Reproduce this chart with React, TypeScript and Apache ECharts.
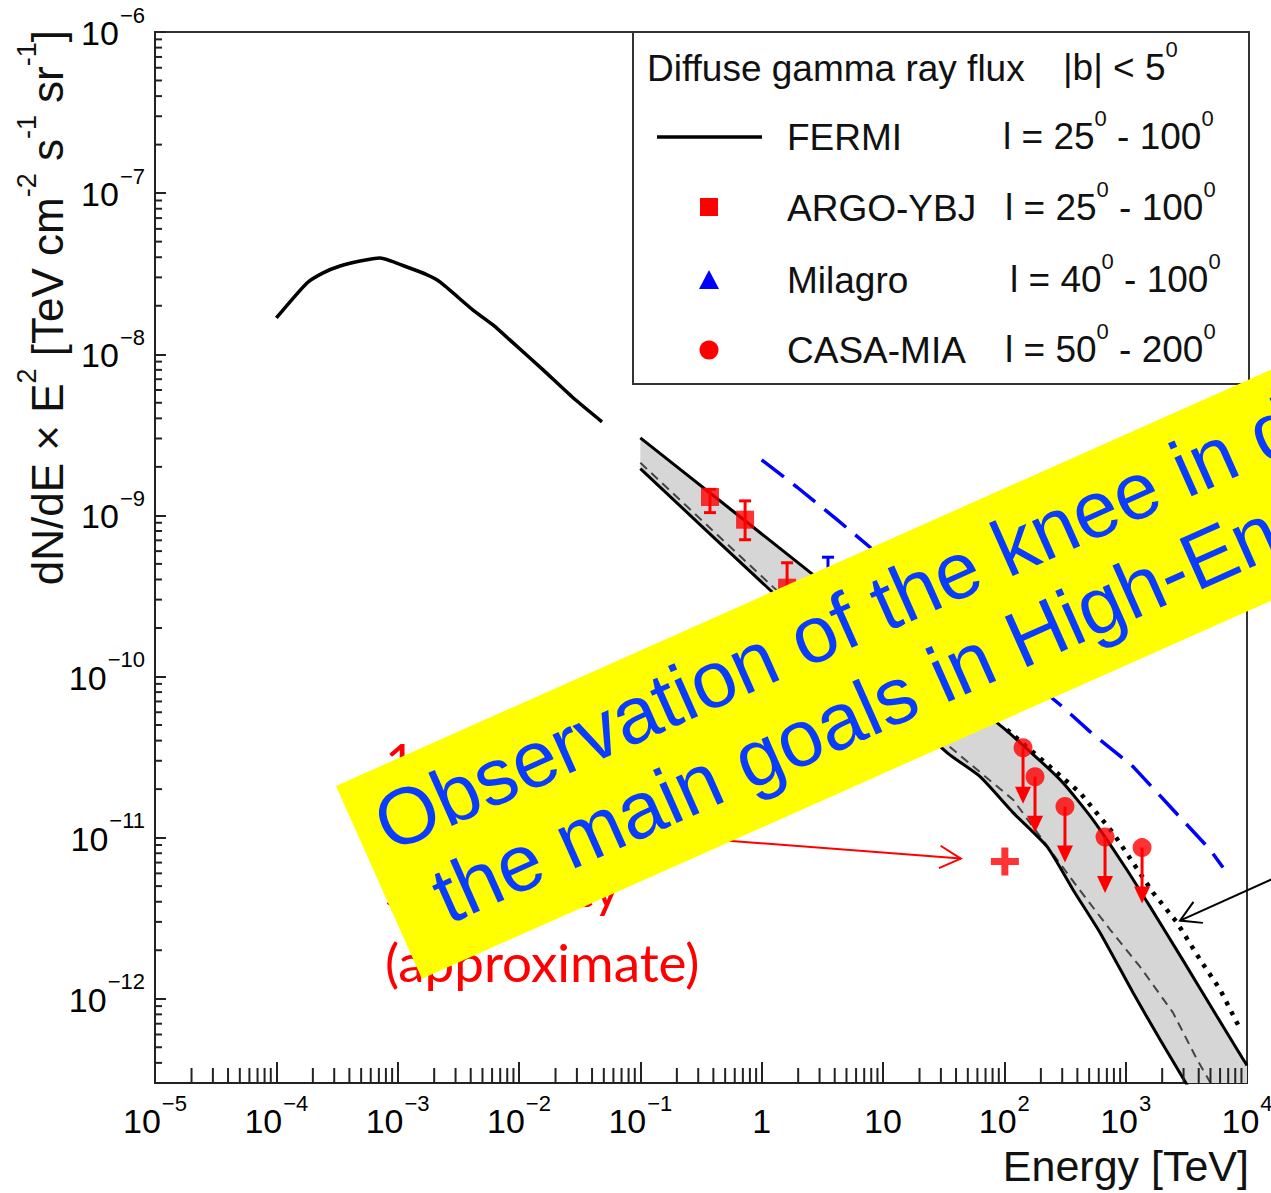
import React, { useEffect, useRef } from 'react';
import * as echarts from 'echarts';

const FONT = '"Liberation Sans", Arial, Helvetica, sans-serif';
const NOTE_FONT = 'Lato, "Open Sans", sans-serif';

const X_MIN = 1e-5;
const X_MAX = 1e4;
const Y_MIN = 3e-13;
const Y_MAX = 1e-6;

const xTickExponents = [-5, -4, -3, -2, -1, 0, 1, 2, 3, 4];
const yTickExponents = [-12, -11, -10, -9, -8, -7, -6];
const yTickValues = yTickExponents.map((e) => Math.pow(10, e));

// FERMI diffuse spectrum  [E (TeV), E^2 dN/dE]
const fermi: number[][] = [
  [1.0e-4, 1.68e-8], [1.79e-4, 2.77e-8], [2.43e-4, 3.2e-8], [3.35e-4, 3.53e-8],
  [4.9e-4, 3.79e-8], [7.15e-4, 3.96e-8], [1.19e-3, 3.48e-8], [1.75e-3, 3.11e-8],
  [2.23e-3, 2.81e-8], [4.18e-3, 1.88e-8], [6.1e-3, 1.52e-8], [8.9e-3, 1.18e-8],
  [0.0158, 8.0e-9], [0.0279, 5.37e-9], [0.0483, 3.81e-9],
];

// model band (grey)
const bandUpper: number[][] = [
  [0.1, 3.03e-9], [2.65, 4.29e-10], [10, 1.92e-10], [97.5, 4.81e-11], [288, 2.29e-11],
  [538, 1.29e-11], [1026, 6.3e-12], [1588, 3.73e-12], [2971, 1.73e-12], [5662, 7.76e-13],
  [9100, 4.32e-13], [10000, 3.86e-13],
];
const bandLower: number[][] = [
  [0.1, 1.95e-9], [1.24, 3.31e-10], [33.7, 3.37e-11], [63.1, 2.39e-11], [118, 1.43e-11],
  [225, 8.79e-12], [368, 4.75e-12], [615, 2.57e-12], [1151, 1.09e-12], [1919, 5.58e-13],
  [2915, 3.29e-13], [10000, 6.9e-14],
];
const bandMid: number[][] = [
  [0.1, 2.12e-9], [1.24, 3.6e-10], [33.7, 3.78e-11], [118, 1.72e-11], [397, 4.97e-12],
  [743, 2.69e-12], [1313, 1.58e-12], [2455, 8.2e-13], [3873, 4.2e-13], [6000, 2.37e-13],
];
const dottedModel: number[][] = [
  [105, 4.68e-11], [421, 1.9e-11], [787, 1.07e-11], [1680, 4.56e-12], [2650, 2.97e-12],
  [4100, 1.75e-12], [6000, 1.14e-12], [8430, 6.9e-13],
];
const milagroModel: number[][] = [
  [1.0, 2.21e-9], [1.95, 1.5e-9], [4.18, 9.4e-10], [8.27, 6.12e-10], [50, 1.98e-10],
  [288, 6.68e-11], [508, 4.55e-11], [1150, 2.76e-11], [2322, 1.56e-11], [4956, 8.43e-12],
  [6340, 6.52e-12],
];

// ARGO-YBJ
const argoE = [0.375, 0.73, 1.62];
const argoFlux = [1.3e-9, 9.4e-10, 3.56e-10];
const argoLow = [1.04e-9, 7.06e-10, 2.6e-10];
const argoHigh = [1.45e-9, 1.23e-9, 5.08e-10];

// Milagro
const milagroE = [3.52];
const milagroFlux = [3.3e-10];
const milagroLow = [2.0e-10];
const milagroHigh = [5.5e-10];

// CASA-MIA upper limits
const casaE = [142.6, 179, 316, 676, 1365];
const casaFlux = [3.61e-11, 2.39e-11, 1.56e-11, 1.01e-11, 8.67e-12];

// approximate sensitivity point
const crossPoint = [101, 7.1e-12];

const legendTitle = 'Diffuse gamma ray flux';
const legendTitleRight = '|b| < 5';
const legendNames = ['FERMI', 'ARGO-YBJ', 'Milagro', 'CASA-MIA'];
const legendRanges = [['25', '100'], ['25', '100'], ['40', '100'], ['50', '200']];

const noteLines = ['1 year', 'LHAASO', 'sensitivity', '(approximate)'];
const noteY = [761, 826, 886, 961];
const bannerLines = ['Observation of the knee in d', 'the main goals in High-En'];

const supTxt = (e: number) => (e < 0 ? '\u2212' : '') + Math.abs(e);
const decadeLabel = (v: number, list: number[], plainSmall: boolean) => {
  const l = Math.log10(v);
  const e = Math.round(l);
  if (Math.abs(l - e) > 1e-6 || list.indexOf(e) < 0) return '';
  if (plainSmall && e === 0) return '{b|1}';
  if (plainSmall && e === 1) return '{b|10}';
  return `{b|10}{s|${supTxt(e)}}`;
};

const axisRich = {
  b: { fontSize: 34, fontFamily: FONT, color: '#000', verticalAlign: 'bottom', padding: [12, 0, 0, 0] },
  s: { fontSize: 22, fontFamily: FONT, color: '#000', verticalAlign: 'top', padding: [0, 0, 0, 1] },
};

const xMinorTicks: number[][] = [];
for (let k = -5; k <= 3; k++) for (let m = 2; m <= 9; m++) xMinorTicks.push([m * Math.pow(10, k), 1e-9]);
const yMinorTicks: number[][] = [];
for (let k = -13; k <= -7; k++)
  for (let m = 2; m <= 9; m++) {
    const v = m * Math.pow(10, k);
    if (v > Y_MIN * 1.01 && v < Y_MAX) yMinorTicks.push([1, v]);
  }

const errorBarRender = (color: string) => (params: any, api: any) => {
  const x = api.value(0);
  const pLo = api.coord([x, api.value(2)]);
  const pHi = api.coord([x, api.value(3)]);
  const cap = 6;
  const st = { stroke: color, lineWidth: 3 };
  return {
    type: 'group',
    children: [
      { type: 'line', shape: { x1: pLo[0], y1: pLo[1], x2: pHi[0], y2: pHi[1] }, style: st },
      { type: 'line', shape: { x1: pLo[0] - cap, y1: pLo[1], x2: pLo[0] + cap, y2: pLo[1] }, style: st },
      { type: 'line', shape: { x1: pHi[0] - cap, y1: pHi[1], x2: pHi[0] + cap, y2: pHi[1] }, style: st },
    ],
  };
};

function buildOption(): any {
  return {
    animation: false,
    backgroundColor: '#fff',
    grid: {
      left: 155, top: 32, right: 24, bottom: 110,
      show: true, borderColor: '#333', borderWidth: 2, containLabel: false, outerBoundsMode: 'none',
    },
    xAxis: {
      type: 'log', logBase: 10, min: X_MIN, max: X_MAX, interval: 1,
      splitLine: { show: false },
      axisLine: { show: true, onZero: false, lineStyle: { color: '#222', width: 2 } },
      axisTick: { show: true, inside: true, length: 21, lineStyle: { color: '#222', width: 2 } },
      axisLabel: {
        margin: 9, formatter: (v: number) => decadeLabel(v, xTickExponents, true), rich: axisRich,
        showMinLabel: true, showMaxLabel: true,
      },
    },
    yAxis: {
      type: 'log', logBase: 10, min: Y_MIN, max: Y_MAX,
      splitLine: { show: false },
      axisLine: { show: true, onZero: false, lineStyle: { color: '#222', width: 2 } },
      axisTick: {
        show: true, inside: true, length: 11, customValues: yTickValues,
        lineStyle: { color: '#222', width: 2 },
      },
      axisLabel: {
        margin: 10, customValues: yTickValues, padding: [0, 0, 10, 0],
        formatter: (v: number) => decadeLabel(v, yTickExponents, false), rich: axisRich,
      },
    },
    series: [
      {
        name: 'band', type: 'custom', clip: true, silent: true, z: 1,
        data: [bandUpper[0]],
        renderItem: (params: any, api: any) => {
          const pts = bandUpper.map((d) => api.coord(d)).concat(bandLower.slice().reverse().map((d) => api.coord(d)));
          return { type: 'polygon', shape: { points: pts }, style: { fill: '#d6d6d6', stroke: 'none' } };
        },
      },
      {
        name: 'bandMid', type: 'line', data: bandMid, symbol: 'none', silent: true, z: 2,
        lineStyle: { color: '#444', width: 2, type: [9, 6] },
      },
      {
        name: 'bandUpper', type: 'line', data: bandUpper, symbol: 'none', silent: true, z: 3, smooth: 0.2,
        lineStyle: { color: '#000', width: 3 },
      },
      {
        name: 'bandLower', type: 'line', data: bandLower, symbol: 'none', silent: true, z: 3, smooth: 0.2,
        lineStyle: { color: '#000', width: 3 },
      },
      {
        name: 'dotted', type: 'line', data: dottedModel, symbol: 'none', silent: true, z: 3,
        lineStyle: { color: '#000', width: 4.5, type: [4, 7] },
      },
      {
        name: 'milagroModel', type: 'line', data: milagroModel, symbol: 'none', silent: true, z: 3,
        lineStyle: { color: '#0000ff', width: 3.5, type: [28, 12] },
      },
      {
        name: 'FERMI', type: 'line', data: fermi, symbol: 'none', silent: true, z: 3, smooth: 0.2,
        lineStyle: { color: '#000', width: 3.5 },
      },
      {
        name: 'ARGO err', type: 'custom', silent: true, z: 4,
        data: argoE.map((e, i) => [e, argoFlux[i], argoLow[i], argoHigh[i]]),
        renderItem: errorBarRender('#ff0000'),
      },
      {
        name: 'ARGO-YBJ', type: 'scatter', symbol: 'rect', symbolSize: 18, silent: true, z: 5,
        itemStyle: { color: '#ff0000' },
        data: argoE.map((e, i) => [e, argoFlux[i]]),
      },
      {
        name: 'Milagro err', type: 'custom', silent: true, z: 4,
        data: milagroE.map((e, i) => [e, milagroFlux[i], milagroLow[i], milagroHigh[i]]),
        renderItem: errorBarRender('#0000ff'),
      },
      {
        name: 'Milagro', type: 'scatter', symbol: 'triangle', symbolSize: 18, silent: true, z: 5,
        itemStyle: { color: '#0000ff' },
        data: milagroE.map((e, i) => [e, milagroFlux[i]]),
      },
      {
        name: 'CASA arrows', type: 'custom', silent: true, z: 4,
        data: casaE.map((e, i) => [e, casaFlux[i]]),
        renderItem: (params: any, api: any) => {
          const p = api.coord([api.value(0), api.value(1)]);
          return {
            type: 'group',
            children: [
              { type: 'line', shape: { x1: p[0], y1: p[1], x2: p[0], y2: p[1] + 42 }, style: { stroke: '#ff0000', lineWidth: 3 } },
              {
                type: 'polygon',
                shape: { points: [[p[0] - 8, p[1] + 39], [p[0] + 8, p[1] + 39], [p[0], p[1] + 56]] },
                style: { fill: '#ff0000' },
              },
            ],
          };
        },
      },
      {
        name: 'CASA-MIA', type: 'scatter', symbol: 'circle', symbolSize: 19, silent: true, z: 5,
        itemStyle: { color: '#ff0000' },
        data: casaE.map((e, i) => [e, casaFlux[i]]),
      },
      {
        name: 'sensitivity', type: 'scatter', silent: true, z: 5,
        symbol: 'path://M3,0 H5 V3 H8 V5 H5 V8 H3 V5 H0 V3 H3 Z', symbolSize: 28,
        itemStyle: { color: '#ff0000' },
        data: [crossPoint],
      },
      {
        name: 'xMinor', type: 'custom', silent: true, z: 6,
        data: xMinorTicks,
        renderItem: (params: any, api: any) => {
          const p = api.coord([api.value(0), api.value(1)]);
          const b = params.coordSys.y + params.coordSys.height;
          return { type: 'line', shape: { x1: p[0], y1: b, x2: p[0], y2: b - 15 }, style: { stroke: '#222', lineWidth: 2 } };
        },
      },
      {
        name: 'yMinor', type: 'custom', silent: true, z: 6,
        data: yMinorTicks,
        renderItem: (params: any, api: any) => {
          const p = api.coord([api.value(0), api.value(1)]);
          const l = params.coordSys.x;
          return { type: 'line', shape: { x1: l, y1: p[1], x2: l + 7, y2: p[1] }, style: { stroke: '#222', lineWidth: 2 } };
        },
      },
    ],
  };
}

const legRich = {
  n: { fontSize: 37, fontFamily: FONT, fill: '#111', verticalAlign: 'bottom', padding: [10, 0, 0, 0] },
  s: { fontSize: 22, fontFamily: FONT, fill: '#111', verticalAlign: 'top' },
};

function openArrow(tip: number[], from: number[], len: number, deg: number) {
  const dx = from[0] - tip[0];
  const dy = from[1] - tip[1];
  const L = Math.hypot(dx, dy);
  const ux = dx / L;
  const uy = dy / L;
  const rot = (a: number) => [ux * Math.cos(a) - uy * Math.sin(a), ux * Math.sin(a) + uy * Math.cos(a)];
  const a = (deg * Math.PI) / 180;
  const r1 = rot(a);
  const r2 = rot(-a);
  return [
    [tip[0] + r1[0] * len, tip[1] + r1[1] * len],
    [tip[0], tip[1]],
    [tip[0] + r2[0] * len, tip[1] + r2[1] * len],
  ];
}

function buildGraphics(px: (p: number[]) => number[]): any[] {
  const g: any[] = [];
  // y axis title
  g.push({
    type: 'text', x: 41, y: 30, rotation: Math.PI / 2, z: 20,
    style: {
      text: '{n|dN/dE \u00d7 E}{s|2}{n| [TeV cm}{s|-2}{n| s}{s|-1}{n| sr}{s|-1}{n|]}',
      align: 'right', verticalAlign: 'middle',
      rich: {
        n: { fontSize: 44, fontFamily: FONT, fill: '#111', verticalAlign: 'bottom', padding: [12, 0, 0, 0] },
        s: { fontSize: 27, fontFamily: FONT, fill: '#111', verticalAlign: 'top' },
      },
    },
  });
  // x axis title
  g.push({
    type: 'text', x: 1249, y: 1166, z: 20,
    style: { text: 'Energy [TeV]', fontSize: 43, fontFamily: FONT, fill: '#111', align: 'right', verticalAlign: 'middle' },
  });
  // legend box
  g.push({
    type: 'rect', z: 20, shape: { x: 633, y: 32, width: 616, height: 352 },
    style: { fill: '#fff', stroke: '#333', lineWidth: 2 },
  });
  g.push({
    type: 'text', x: 647, y: 68, z: 21,
    style: { text: legendTitle, fontSize: 37, fontFamily: FONT, fill: '#111', verticalAlign: 'middle' },
  });
  g.push({
    type: 'text', x: 1063, y: 62, z: 21,
    style: { text: `{n|${legendTitleRight}}{s|0}`, rich: legRich, verticalAlign: 'middle' },
  });
  const rowY = [137, 208, 280, 350];
  const rangeX = [1003, 1005, 1010, 1005];
  legendNames.forEach((nm, i) => {
    g.push({
      type: 'text', x: 787, y: rowY[i], z: 21,
      style: { text: nm, fontSize: 37, fontFamily: FONT, fill: '#111', verticalAlign: 'middle' },
    });
    const r = legendRanges[i];
    g.push({
      type: 'text', x: rangeX[i], y: rowY[i] - 6, z: 21,
      style: { text: `{n|l = ${r[0]}}{s|0}{n| - ${r[1]}}{s|0}`, rich: legRich, verticalAlign: 'middle' },
    });
  });
  g.push({ type: 'line', z: 21, shape: { x1: 657, y1: 137, x2: 762, y2: 137 }, style: { stroke: '#000', lineWidth: 3.5 } });
  g.push({ type: 'rect', z: 21, shape: { x: 700, y: 198, width: 18, height: 18 }, style: { fill: '#ff0000' } });
  g.push({ type: 'polygon', z: 21, shape: { points: [[709, 270], [699, 289], [719, 289]] }, style: { fill: '#0000ff' } });
  g.push({ type: 'circle', z: 21, shape: { cx: 709, cy: 350, r: 9.5 }, style: { fill: '#ff0000' } });

  // red note text (partly hidden by banner)
  noteLines.forEach((t, i) => {
    g.push({
      type: 'text', x: 385, y: noteY[i], z: 30,
      style: { text: t, fontSize: 53, fontFamily: NOTE_FONT, fill: '#ff0000', verticalAlign: 'middle' },
    });
  });
  // red arrow to the cross
  const c = px(crossPoint);
  const redTip = [c[0] - 44, c[1] - 3];
  const redFrom = [640, 834];
  g.push({ type: 'line', z: 30, shape: { x1: redFrom[0], y1: redFrom[1], x2: redTip[0], y2: redTip[1] }, style: { stroke: '#ff0000', lineWidth: 2 } });
  g.push({ type: 'polyline', z: 30, shape: { points: openArrow(redTip, redFrom, 24, 28) }, style: { stroke: '#ff0000', lineWidth: 2, fill: 'none' } });
  // black arrow to the dotted model
  const d = px(dottedModel[4]);
  const blkTip = [d[0] + 3, d[1] - 2];
  const blkFrom = [1290, 871];
  g.push({ type: 'line', z: 30, shape: { x1: blkFrom[0], y1: blkFrom[1], x2: blkTip[0], y2: blkTip[1] }, style: { stroke: '#000', lineWidth: 2 } });
  g.push({ type: 'polyline', z: 30, shape: { points: openArrow(blkTip, blkFrom, 23, 30) }, style: { stroke: '#000', lineWidth: 2, fill: 'none' } });

  // yellow banner
  const rot = (24 * Math.PI) / 180;
  g.push({
    type: 'group', x: 336, y: 786, rotation: rot, z: 100,
    children: [
      { type: 'rect', z: 100, shape: { x: 0, y: 0, width: 1300, height: 211 }, style: { fill: '#ffff00' } },
      {
        type: 'text', z: 101, x: 22, y: 56,
        style: { text: bannerLines[0], fontSize: 80, fontFamily: FONT, fill: '#0a3cff', verticalAlign: 'middle' },
      },
      {
        type: 'text', z: 101, x: 46, y: 145,
        style: { text: bannerLines[1], fontSize: 80, fontFamily: FONT, fill: '#0a3cff', verticalAlign: 'middle' },
      },
    ],
  });
  return g;
}

export default function App() {
  const ref = useRef<HTMLDivElement>(null);
  useEffect(() => {
    const chart = echarts.init(ref.current as HTMLDivElement, null, { renderer: 'svg' });
    chart.setOption(buildOption());
    const px = (p: number[]) => chart.convertToPixel({ gridIndex: 0 }, p) as unknown as number[];
    chart.setOption({ graphic: buildGraphics(px) });
    return () => chart.dispose();
  }, []);
  return (
    <div
      ref={ref}
      style={{ position: 'absolute', left: 0, top: 0, width: '1271px', height: '1193px', background: '#fff', overflow: 'hidden' }}
    />
  );
}
